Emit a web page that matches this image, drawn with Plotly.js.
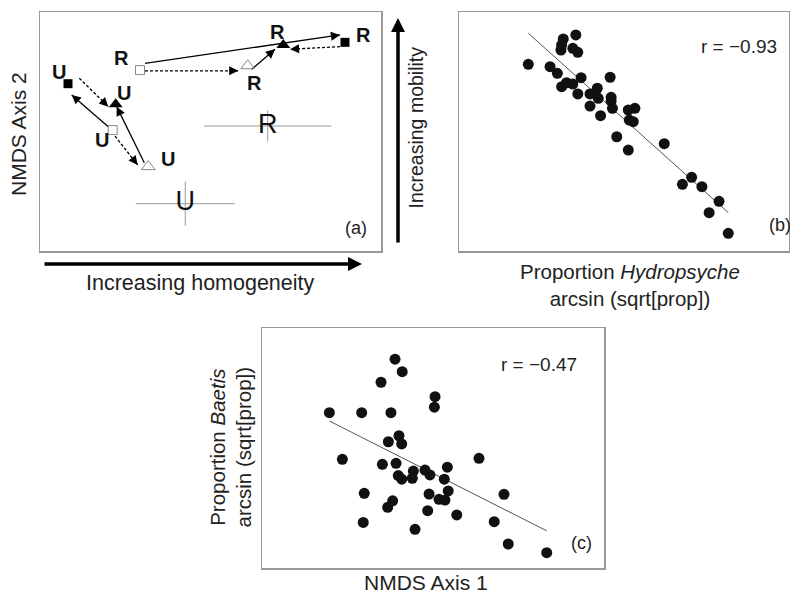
<!DOCTYPE html>
<html>
<head>
<meta charset="utf-8">
<script src="https://cdn.plot.ly/plotly-3.0.1.min.js"></script>
<style>html,body{margin:0;padding:0;background:#fff;}#chart{width:790px;height:593px;}</style>
</head>
<body>
<div id="chart"></div>
<script>
// ---------------- DATA ----------------
// Panel (a): NMDS ordination, group centroids (arbitrary NMDS units 0-100)
const aGroup = ['U', 'U', 'U', 'U', 'R', 'R', 'R', 'R'];
const aState = ['sq-fill', 'sq-open', 'tri-fill', 'tri-open', 'sq-open', 'tri-open', 'tri-fill', 'sq-fill'];
const aX = [8.21, 21.32, 22.2, 31.76, 29.33, 60.91, 71.35, 89.44];
const aY = [70.0, 50.6, 61.4, 35.3, 75.7, 77.5, 86.2, 87.3];

// Panel (a): trajectories between sampling dates (start -> end), solid or dashed
const arrowX0 = [20.03, 11.52, 30.59, 21.99, 30.79, 30.79, 62.08, 87.98];
const arrowY0 = [52.0, 72.3, 36.9, 48.1, 78.5, 75.4, 76.0, 85.5];
const arrowX1 = [9.30, 20.03, 22.49, 28.65, 87.98, 58.15, 68.91, 73.31];
const arrowY1 = [65.3, 60.4, 60.4, 36.0, 90.4, 75.4, 84.4, 84.4];
const arrowKind = ['solid', 'dashed', 'solid', 'dashed', 'solid', 'dashed', 'solid', 'dashed'];

// Panel (a): overall group means with spread (cross-hairs)
const cLabel = ['R', 'U'];
const cX = [66.77, 42.6];
const cY = [52.3, 19.8];
const cErrX = [18.68, 14.5];
const cErrY = [6.55, 9.27];

// Panel (b): Proportion Hydropsyche (x) vs NMDS Axis 2 (y)
const bX = [0.210, 0.316, 0.311, 0.309, 0.354, 0.345, 0.360, 0.276, 0.298, 0.370, 0.458, 0.311,
            0.326, 0.345, 0.360, 0.397, 0.419, 0.422, 0.397, 0.429, 0.461, 0.461, 0.465, 0.513,
            0.533, 0.516, 0.528, 0.478, 0.513, 0.622, 0.677, 0.705, 0.736, 0.788, 0.758, 0.816];
const bY = [0.562, 0.774, 0.724, 0.682, 0.808, 0.696, 0.663, 0.542, 0.487, 0.450, 0.454, 0.375,
            0.408, 0.397, 0.314, 0.314, 0.362, 0.278, 0.213, 0.132, 0.286, 0.255, 0.194, 0.180,
            0.194, 0.096, 0.082, -0.044, -0.155, -0.102, -0.442, -0.383, -0.462, -0.584, -0.679, -0.852];
const bFitX = [0.210, 0.816];
const bFitY = [0.822, -0.679];
const bR = '−0.93';

// Panel (c): NMDS Axis 1 (x) vs Proportion Baetis (y)
const cPtX = [-0.222, -0.180, -0.304, 0.012, 0.008, -0.606, -0.417, -0.246, -0.199, -0.261, -0.183,
              -0.530, -0.296, -0.216, 0.269, 0.084, -0.115, -0.047, -0.018, -0.203, -0.183, -0.121,
              0.066, -0.402, -0.023, 0.089, 0.415, -0.236, -0.265, 0.035, 0.070, -0.031, 0.139,
              -0.408, -0.105, 0.358, 0.440, 0.665];
const cPtY = [0.870, 0.818, 0.774, 0.714, 0.670, 0.647, 0.647, 0.647, 0.551, 0.526, 0.517,
              0.453, 0.432, 0.436, 0.457, 0.420, 0.404, 0.408, 0.388, 0.385, 0.370, 0.374,
              0.370, 0.311, 0.308, 0.321, 0.307, 0.280, 0.253, 0.286, 0.283, 0.239, 0.221,
              0.190, 0.161, 0.193, 0.100, 0.064];
const cFitX = [-0.606, 0.665];
const cFitY = [0.6125, 0.155];
const cR = '−0.47';

// ---------------- LAYOUT / STYLE ----------------
const W = 790, H = 593;
const FONT = 'Liberation Sans, Arial, Helvetica, sans-serif';
const px = x => x / W;
const py = y => 1 - y / H;
const boxA = {l: 40, r: 381, t: 12, b: 251};
const boxB = {l: 459, r: 789, t: 12, b: 251};
const boxC = {l: 262, r: 604, t: 328, b: 568};
const rangeA = {x: [0, 100], y: [0, 100]};
const sxA = (boxA.r - boxA.l) / (rangeA.x[1] - rangeA.x[0]);
const syA = (boxA.b - boxA.t) / (rangeA.y[1] - rangeA.y[0]);

const symbolMap = {
  'sq-fill': {symbol: 'square', size: 9, color: '#000', lw: 0},
  'sq-open': {symbol: 'square-open', size: 9, color: '#888', lw: 1},
  'tri-fill': {symbol: 'triangle-up', size: 12, color: '#000', lw: 0},
  'tri-open': {symbol: 'triangle-up-open', size: 12, color: '#888', lw: 1}
};
// label offsets (pixels) of the bold U/R tags relative to each point
const labelOffset = [[-9.5, -11.7], [-10.7, 10.3], [8.6, -11.3], [19.7, -7.7],
                     [-18.3, -11.7], [6.3, 16.8], [-6.1, -12.5], [18.3, -7.3]];

function axisStyle(domain, range, anchor) {
  return {domain: domain, range: range, anchor: anchor, showline: true, mirror: true,
          linecolor: '#999', linewidth: 1.5,
          showgrid: false, zeroline: false, showticklabels: false, ticks: '', fixedrange: true};
}

const traces = [];
const annotations = [];

// cross-hairs
traces.push({
  type: 'scatter', mode: 'markers', x: cX, y: cY, xaxis: 'x', yaxis: 'y',
  marker: {size: 1, color: 'rgba(0,0,0,0)'},
  error_x: {type: 'data', array: cErrX, visible: true, width: 0, thickness: 1, color: '#999'},
  error_y: {type: 'data', array: cErrY, visible: true, width: 0, thickness: 1, color: '#999'},
  hoverinfo: 'skip'
});
traces.push({
  type: 'scatter', mode: 'text', x: cX, y: cY, text: cLabel, xaxis: 'x', yaxis: 'y',
  textposition: 'middle center', textfont: {family: FONT, size: 27, color: '#111'}, hoverinfo: 'skip'
});

// arrow shafts and heads
for (let i = 0; i < arrowX0.length; i++) {
  traces.push({
    type: 'scatter', mode: 'lines', x: [arrowX0[i], arrowX1[i]], y: [arrowY0[i], arrowY1[i]],
    xaxis: 'x', yaxis: 'y',
    line: {color: '#000', width: 1.3, dash: arrowKind[i] === 'dashed' ? '3px,2px' : 'solid'},
    hoverinfo: 'skip'
  });
  const dxp = (arrowX1[i] - arrowX0[i]) * sxA;
  const dyp = -(arrowY1[i] - arrowY0[i]) * syA;
  const len = Math.hypot(dxp, dyp);
  annotations.push({
    xref: 'x', yref: 'y', x: arrowX1[i], y: arrowY1[i], text: '',
    showarrow: true, arrowhead: 2, arrowsize: 1.4, arrowwidth: 1.3, arrowcolor: '#000',
    ax: -dxp / len * 7, ay: -dyp / len * 7, standoff: 0
  });
}

// points in (a)
Object.keys(symbolMap).forEach(state => {
  const idx = aState.map((s, i) => s === state ? i : -1).filter(i => i >= 0);
  const st = symbolMap[state];
  traces.push({
    type: 'scatter', mode: 'markers', x: idx.map(i => aX[i]), y: idx.map(i => aY[i]),
    xaxis: 'x', yaxis: 'y',
    marker: {symbol: st.symbol, size: st.size, color: st.color, line: {color: st.color, width: st.lw}},
    hoverinfo: 'skip'
  });
});
// U / R tags
for (let i = 0; i < aX.length; i++) {
  annotations.push({
    xref: 'x', yref: 'y', x: aX[i], y: aY[i], text: '<b>' + aGroup[i] + '</b>', showarrow: false,
    xshift: labelOffset[i][0], yshift: -labelOffset[i][1],
    font: {family: FONT, size: 20, color: '#111'}, xanchor: 'center', yanchor: 'middle'
  });
}

// panel (b)
traces.push({type: 'scatter', mode: 'lines', x: bFitX, y: bFitY, xaxis: 'x2', yaxis: 'y2',
  line: {color: '#555', width: 1}, hoverinfo: 'skip'});
traces.push({type: 'scatter', mode: 'markers', x: bX, y: bY, xaxis: 'x2', yaxis: 'y2',
  marker: {size: 11, color: '#111'}, hoverinfo: 'skip'});

// panel (c)
traces.push({type: 'scatter', mode: 'lines', x: cFitX, y: cFitY, xaxis: 'x3', yaxis: 'y3',
  line: {color: '#555', width: 1}, hoverinfo: 'skip'});
traces.push({type: 'scatter', mode: 'markers', x: cPtX, y: cPtY, xaxis: 'x3', yaxis: 'y3',
  marker: {size: 11, color: '#111'}, hoverinfo: 'skip'});

function txt(text, x, y, size, angle) {
  return {xref: 'paper', yref: 'paper', x: px(x), y: py(y), text: text, showarrow: false,
          xanchor: 'center', yanchor: 'middle', textangle: angle || 0,
          font: {family: FONT, size: size, color: '#222'}};
}
annotations.push(txt('NMDS Axis 2', 18, 134, 21, -90));
annotations.push(txt('Increasing homogeneity', 200.5, 283, 21.5));
annotations.push(txt('Increasing mobility', 415, 127.5, 19.5, -90));
annotations.push(txt('Proportion <i>Hydropsyche</i><br>arcsin (sqrt[prop])', 630, 285, 20.5));
annotations.push(txt('Proportion <i>Baetis</i><br>arcsin (sqrt[prop])', 230, 447.5, 20.5, -90));
annotations.push(txt('NMDS Axis 1', 426, 582, 21));
annotations.push(txt('r = ' + bR, 739, 47, 19));
annotations.push(txt('r = ' + cR, 539, 364, 19));
annotations.push(txt('(a)', 356, 228, 18));
annotations.push(txt('(b)', 780, 225, 18));
annotations.push(txt('(c)', 581, 543, 18));

// big axis arrows
annotations.push({xref: 'paper', yref: 'paper', x: px(362), y: py(264), ax: -319, ay: 0, text: '',
  showarrow: true, arrowhead: 2, arrowsize: 0.8, arrowwidth: 3.5, arrowcolor: '#000', standoff: 0});
annotations.push({xref: 'paper', yref: 'paper', x: px(398), y: py(18), ax: 0, ay: 226, text: '',
  showarrow: true, arrowhead: 2, arrowsize: 0.8, arrowwidth: 3.5, arrowcolor: '#000', standoff: 0});

const layout = {
  width: W, height: H, margin: {l: 0, r: 0, t: 0, b: 0},
  paper_bgcolor: '#fff', plot_bgcolor: '#fff', showlegend: false,
  xaxis: axisStyle([px(boxA.l), px(boxA.r)], rangeA.x, 'y'),
  yaxis: axisStyle([py(boxA.b), py(boxA.t)], rangeA.y, 'x'),
  xaxis2: axisStyle([px(boxB.l), px(boxB.r)], [0, 1], 'y2'),
  yaxis2: axisStyle([py(boxB.b), py(boxB.t)], [-1, 1], 'x2'),
  xaxis3: axisStyle([px(boxC.l), px(boxC.r)], [-1, 1], 'y3'),
  yaxis3: axisStyle([py(boxC.b), py(boxC.t)], [0, 1], 'x3'),
  annotations: annotations,
  font: {family: FONT}
};

Plotly.newPlot('chart', traces, layout, {staticPlot: true, displayModeBar: false});
</script>
</body>
</html>
